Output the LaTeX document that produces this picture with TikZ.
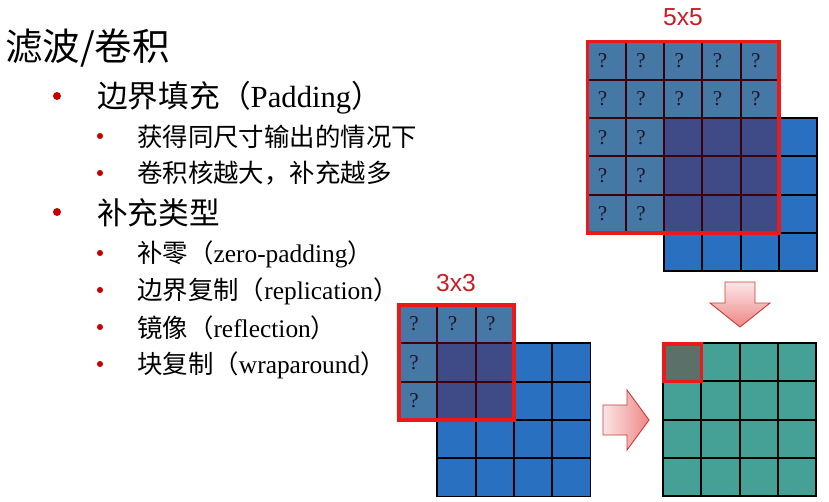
\documentclass[tikz,border=0pt]{standalone}
\usepackage{fontspec}
\setmainfont{Liberation Serif}
\newfontfamily\cjk{Noto Sans CJK SC}
\newfontfamily\labelsans{Liberation Sans}
\usetikzlibrary{positioning}
\definecolor{imgblue}{RGB}{42,112,192}
\definecolor{padblue}{RGB}{70,120,166}
\definecolor{overblue}{RGB}{62,75,135}
\definecolor{gridmaroon}{RGB}{60,0,12}
\definecolor{kernelred}{RGB}{235,25,25}
\definecolor{outteal}{RGB}{69,160,150}
\definecolor{outgray}{RGB}{90,112,104}
\definecolor{labelred}{RGB}{200,30,36}
\definecolor{bulletred}{RGB}{200,0,0}
\definecolor{arrowlight}{RGB}{251,230,230}
\definecolor{arrowdark}{RGB}{238,135,135}
\definecolor{arrowedge}{RGB}{205,60,60}
\definecolor{qdark}{RGB}{30,20,40}

\newcommand\zhtext[1]{{\cjk #1}}

\tikzset{
  imgcell/.style={fill=imgblue, draw=black, line width=1.6pt},
  padcell/.style={fill=padblue, draw=gridmaroon, line width=1.6pt},
  overcell/.style={fill=overblue, draw=gridmaroon, line width=1.6pt},
  outcell/.style={fill=outteal, draw=black, line width=1.6pt},
  kernelframe/.style={draw=kernelred, line width=3.2pt},
  qmark/.style={font=\fontsize{18}{18}\selectfont, text=qdark, inner sep=0pt},
  sizelabel/.style={font=\labelsans\fontsize{21}{21}\selectfont, text=labelred, inner sep=0pt},
  titletext/.style={anchor=west, inner sep=0pt, font=\fontsize{32}{36}\selectfont},
  lvlone/.style={anchor=west, inner sep=0pt, font=\fontsize{26.2}{30}\selectfont},
  lvltwo/.style={anchor=west, inner sep=0pt, font=\fontsize{21.7}{26}\selectfont},
  dotone/.style={circle, fill=bulletred, inner sep=0pt, minimum size=6.8pt},
  dottwo/.style={circle, fill=bulletred, inner sep=0pt, minimum size=5.2pt},
  padarrow/.style={draw=arrowedge, line width=0.8pt, line join=miter}
}

\begin{document}
\begin{tikzpicture}[x=0.03cm, y=-0.03cm]
  \path[use as bounding box, fill=white] (0,0) rectangle (829,502);
  \def\s{38.3}

  % ---- text ----
  \node[titletext] (title) at (5,48) {\zhtext{滤波/卷积}};

  \node[dotone] (b1) at (57,96) {};
  \node[lvlone] (pad) at (97,97.5) {\zhtext{边界填充（}Padding\zhtext{）}};
  \node[dottwo] (b2) at (100,136) {};
  \node[lvltwo] (same) at (137,137) {\zhtext{获得同尺寸输出的情况下}};
  \node[dottwo] (b3) at (100,173) {};
  \node[lvltwo] (bigger) at (137,173.5) {\zhtext{卷积核越大，补充越多}};
  \node[dotone] (b4) at (57,212) {};
  \node[lvlone] (types) at (97,213) {\zhtext{补充类型}};
  \node[dottwo] (b5) at (100,253) {};
  \node[lvltwo] (zero) at (137,254) {\zhtext{补零（}zero-padding\zhtext{）}};
  \node[dottwo] (b6) at (100,290) {};
  \node[lvltwo] (repl) at (137,291) {\zhtext{边界复制（}replication\zhtext{）}};
  \node[dottwo] (b7) at (100,327) {};
  \node[lvltwo] (refl) at (137,327.5) {\zhtext{镜像（}reflection\zhtext{）}};
  \node[dottwo] (b8) at (100,364) {};
  \node[lvltwo] (wrap) at (137,365) {\zhtext{块复制（}wraparound\zhtext{）}};

  % ---- 5x5 kernel over the image ----
  \node[sizelabel] (ksize5) at (683,17) {5x5};
  \foreach \i in {0,...,3} \foreach \j in {0,...,3}
    \draw[imgcell] ({664.1+\i*\s},{118.1+\j*\s}) rectangle ++(\s,\s);
  \foreach \i in {0,...,4} \foreach \j in {0,1}
    \draw[padcell] ({587.5+\i*\s},{41.5+\j*\s}) rectangle ++(\s,\s);
  \foreach \i in {0,1} \foreach \j in {2,3,4}
    \draw[padcell] ({587.5+\i*\s},{41.5+\j*\s}) rectangle ++(\s,\s);
  \foreach \i in {2,3,4} \foreach \j in {2,3,4}
    \draw[overcell] ({587.5+\i*\s},{41.5+\j*\s}) rectangle ++(\s,\s);
  \foreach \i in {0,...,4} \foreach \j in {0,1}
    \node[qmark] (qa-\i-\j) at ({587.5+\i*\s+\s/2-4},{41.5+\j*\s+\s/2}) {?};
  \foreach \i in {0,1} \foreach \j in {2,3,4}
    \node[qmark] (qa-\i-\j) at ({587.5+\i*\s+\s/2-4},{41.5+\j*\s+\s/2}) {?};
  \draw[kernelframe] (587.5,41.5) rectangle ++({5*\s},{5*\s});

  % ---- 3x3 kernel over the image ----
  \node[sizelabel] (ksize3) at (456,283) {3x3};
  \foreach \i in {0,...,3} \foreach \j in {0,...,3}
    \draw[imgcell] ({437.3+\i*\s},{343.3+\j*\s}) rectangle ++(\s,\s);
  \foreach \i in {0,1,2}
    \draw[padcell] ({399+\i*\s},305) rectangle ++(\s,\s);
  \foreach \j in {1,2}
    \draw[padcell] (399,{305+\j*\s}) rectangle ++(\s,\s);
  \foreach \i in {1,2} \foreach \j in {1,2}
    \draw[overcell] ({399+\i*\s},{305+\j*\s}) rectangle ++(\s,\s);
  \foreach \i in {0,1,2}
    \node[qmark] (qb-\i-0) at ({399+\i*\s+\s/2-4},{305+\s/2}) {?};
  \foreach \j in {1,2}
    \node[qmark] (qb-0-\j) at ({399+\s/2-4},{305+\j*\s+\s/2}) {?};
  \draw[kernelframe] (399,305) rectangle ++({3*\s},{3*\s});

  % ---- output ----
  \foreach \i in {0,...,3} \foreach \j in {0,...,3}
    \draw[outcell] ({663+\i*\s},{343+\j*\s}) rectangle ++(\s,\s);
  \fill[outgray] (663,343) rectangle ++(\s,\s);
  \draw[kernelframe, line width=2.6pt] (664,344) rectangle ++({\s-1},{\s-1});

  % ---- arrows ----
  \path[padarrow, top color=arrowlight, bottom color=arrowdark]
    (725,282) -- (755,282) -- (755,303) -- (770,303) -- (740,327)
    -- (710,303) -- (725,303) -- cycle;
  \path[padarrow, left color=arrowlight, right color=arrowdark]
    (603,405) -- (627,405) -- (627,390) -- (649,420) -- (627,450)
    -- (627,435) -- (603,435) -- cycle;
\end{tikzpicture}
\end{document}
